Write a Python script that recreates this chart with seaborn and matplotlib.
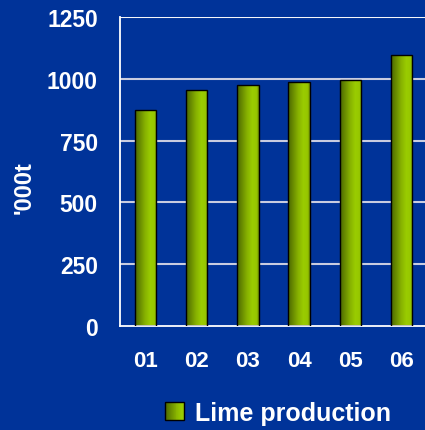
import numpy as np
import pandas as pd
import matplotlib
matplotlib.use("Agg")
import matplotlib.pyplot as plt
from matplotlib.colors import LinearSegmentedColormap
from matplotlib.patches import Rectangle
from matplotlib.legend_handler import HandlerBase
import seaborn as sns

years = ["01", "02", "03", "04", "05", "06"]
production = [874, 956, 974, 986, 994, 1098]
series_name = "Lime production"
y_label = "'000t"
y_ticks = [0, 250, 500, 750, 1000, 1250]

BG = "#003399"
sns.set_theme(style="white")
plt.rcParams["font.family"] = ["Liberation Sans", "DejaVu Sans"]
plt.rcParams["font.weight"] = "bold"

fig = plt.figure(figsize=(4.25, 4.31), dpi=100, facecolor=BG)
W, H = 425, 431
ax = fig.add_axes([120 / W, (H - 327) / H, (427 - 120) / W, (327 - 18) / H])
ax.set_facecolor(BG)

df = pd.DataFrame({"year": years, "value": production})
sns.barplot(data=df, x="year", y="value", ax=ax, color="#8cb800", width=0.42,
            edgecolor="black", linewidth=1.0, saturation=1, zorder=3)

cmap = LinearSegmentedColormap.from_list(
    "lime", [(0.0, "#4a6600"), (0.45, "#86b000"), (0.7, "#9acc00"),
             (0.9, "#96c600"), (1.0, "#6a8a00")])
grad = np.linspace(0, 1, 256).reshape(1, -1)
for p in ax.patches:
    x0, y0 = p.get_x(), p.get_y()
    w, h = p.get_width(), p.get_height()
    im = ax.imshow(grad, cmap=cmap, aspect="auto", extent=[x0, x0 + w, y0, y0 + h],
                   zorder=2.5, interpolation="bilinear")
    im.set_clip_path(p)
    p.set_facecolor("none")

ax.set_xlim(-0.5, 5.5)
ax.set_ylim(0, 1250)
ax.set_yticks(y_ticks)
ax.set_yticklabels([str(t) for t in y_ticks], color="white", fontsize=16.5, fontweight="bold")
ax.set_xticks(range(len(years)))
ax.set_xticklabels(years, color="white", fontsize=16, fontweight="bold")
ax.set_xticks(np.arange(-0.5, 5.5, 1.0), minor=True)
ax.tick_params(axis="x", which="major", length=0, pad=17)
ax.tick_params(axis="x", which="minor", length=7, width=1.2, color="white", direction="out")
ax.tick_params(axis="y", which="major", length=8, width=1.2, color="#c8cce0", direction="out", pad=8)

for yv in y_ticks[1:]:
    ax.axhline(yv, color="#c8cce0", lw=1.5, zorder=1)
ax.axhline(1250, color="white", lw=1.2, zorder=1)

for s in ["top", "right"]:
    ax.spines[s].set_visible(False)
ax.spines["left"].set_color("white")
ax.spines["left"].set_linewidth(1.3)
ax.spines["bottom"].set_color("white")
ax.spines["bottom"].set_linewidth(1.3)

ax.set_xlabel("")
ax.set_ylabel(y_label, color="white", fontsize=17, fontweight="bold", rotation=90)
ax.yaxis.set_label_coords(-0.274, 0.45)


class GradHandler(HandlerBase):
    def create_artists(self, legend, orig_handle, xdescent, ydescent, width, height, fontsize, trans):
        arts = []
        n = 20
        side = height * 1.05
        x0 = -xdescent + (width - side) / 2
        y0 = -ydescent + (height - side) / 2
        for i in range(n):
            c = cmap((i + 0.5) / n * 0.8)
            r = Rectangle((x0 + side * i / n, y0), side / n + 0.3, side, facecolor=c,
                          edgecolor="none", transform=trans)
            arts.append(r)
        arts.append(Rectangle((x0, y0), side, side, facecolor="none", edgecolor="black",
                              lw=1.0, transform=trans))
        return arts


handle = Rectangle((0, 0), 1, 1)
leg = fig.legend([handle], [series_name], handler_map={Rectangle: GradHandler()},
                 loc="center", bbox_to_anchor=(277 / W, 1 - 414 / H), frameon=False,
                 prop={"size": 18, "weight": "bold"}, handlelength=0.9, handletextpad=0.35)
for t in leg.get_texts():
    t.set_color("white")

fig.savefig("out.png", dpi=100, facecolor=BG)
